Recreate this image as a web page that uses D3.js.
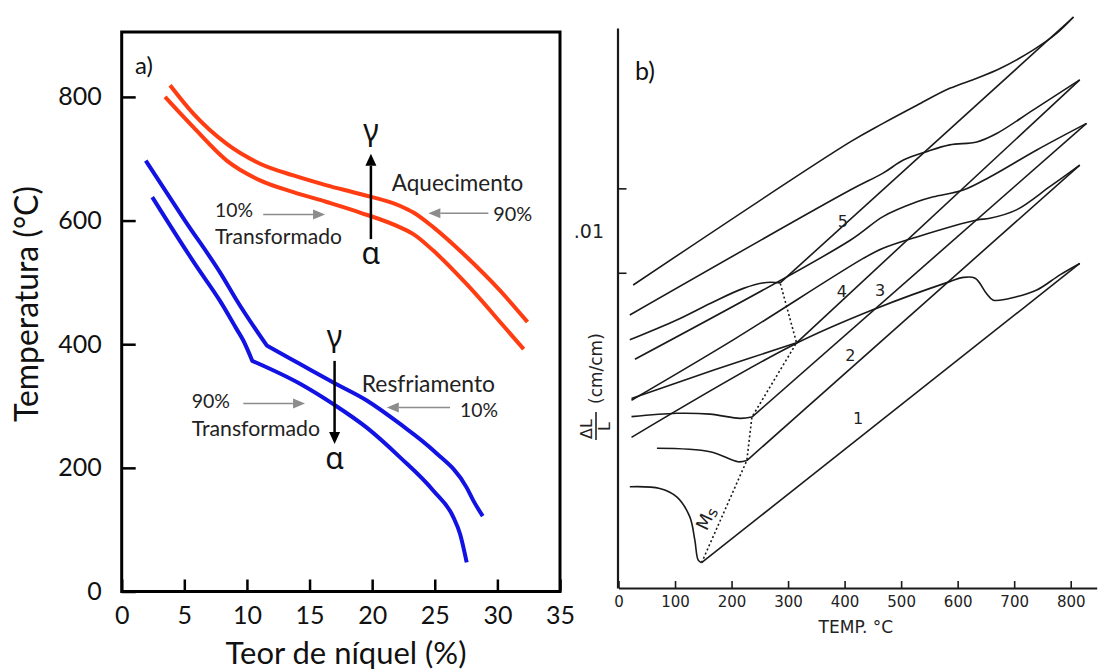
<!DOCTYPE html>
<html>
<head>
<meta charset="utf-8">
<script src="https://cdn.jsdelivr.net/npm/d3@7"></script>
<style>
  html, body { margin: 0; padding: 0; background: #ffffff; }
  svg { display: block; }
</style>
</head>
<body>
<script>
"use strict";

// ---------- panel a) transformation temperature vs nickel content ----------
const niTicks = [0, 5, 10, 15, 20, 25, 30, 35];
const tempTicks = [0, 200, 400, 600, 800];

// heating (aquecimento), [Ni %, temperature C]
const heat10 = [[3.46, 800], [5.72, 751], [8.39, 697], [11.05, 665], [13.71, 646], [16.37, 630],
    [19.03, 613], [22.23, 589], [23.29, 578], [24.9, 551], [27.55, 497], [30.6, 427], [32.1, 392]];
const heat90 = [[3.86, 819], [5.72, 773], [8.39, 724], [11.05, 692], [13.71, 673], [16.37, 657],
    [19.03, 643], [22.2, 624], [23.3, 613], [24.9, 589], [27.55, 541], [30.2, 487], [32.4, 436]];

// cooling (resfriamento)
const cool10 = [[1.92, 697], [5.05, 600], [8.01, 511], [9.18, 471], [11.58, 398], [14.24, 368],
    [16.9, 338], [19.57, 309], [22.23, 271], [24.89, 228], [27.55, 168], [28.08, 147], [28.83, 122]];
const cool90 = [[2.44, 638], [5.94, 527], [7.85, 470], [9.19, 424], [9.71, 406], [10.43, 373],
    [14.24, 336], [16.9, 303], [19.57, 265], [22.23, 217], [24.89, 163], [26.49, 120], [27.02, 93], [27.55, 47]];
// index of the sharp bend in each cooling curve
const coolKinks = [4, 5];

// ---------- panel b) dilatometric curves, [T C, dL/L x 10^-3] ----------
const tempBTicks = [0, 100, 200, 300, 400, 500, 600, 700, 800];
const strainTicks = [9, 11];
const strainLabelValue = 10;   // ".01"

const heatB5 = [[26, 8.71], [410, 12.10], [468, 12.54], [528, 12.97], [586, 13.37], [634, 13.61],
    [675, 13.84], [734, 14.28], [775, 14.67], [805, 15.06]];
const heatB4 = [[20, 8.00], [410, 10.96], [468, 11.36], [504, 11.67], [545, 11.87], [586, 12.03],
    [634, 12.10], [669, 12.30], [734, 12.86], [816, 13.57]];
const heatB3 = [[29, 6.95], [410, 9.77], [468, 10.33], [528, 10.68], [557, 10.80], [610, 10.96],
    [657, 11.27], [740, 11.91], [828, 12.54]];
const heatB2 = [[23, 5.98], [203, 7.41], [433, 9.34], [468, 9.58], [528, 9.85], [634, 10.25],
    [657, 10.29], [704, 10.49], [763, 11.04], [816, 11.55]];
const heatB1 = [[23, 5.10], [309, 7.29], [457, 8.16], [586, 8.79], [610, 8.89], [631, 8.87],
    [651, 8.51], [663, 8.35], [704, 8.43], [740, 8.59], [781, 8.95], [816, 9.22]];

const austB5 = [[286, 8.76], [805, 15.06]];
const austB4 = [[315, 7.34], [816, 13.57]];
const austB3 = [[236, 5.58], [828, 12.54]];
const austB2 = [[227, 4.55], [816, 11.55]];
const austB1 = [[147, 2.13], [816, 9.22]];

const coolB5 = [[20, 7.41], [103, 7.88], [162, 8.27], [221, 8.63], [262, 8.77], [286, 8.76]];
const coolB4 = [[23, 6.02], [170, 6.70], [315, 7.34]];
const coolB3 = [[23, 5.59], [103, 5.67], [162, 5.65], [215, 5.55], [236, 5.58]];
const coolB2 = [[68, 4.84], [162, 4.76], [212, 4.52], [227, 4.55]];
const coolB1 = [[20, 3.93], [73, 3.89], [103, 3.69], [126, 3.22], [135, 2.67], [141, 2.19], [147, 2.13]];

const msLine = [[147, 2.13], [227, 4.55], [236, 5.58], [315, 7.34], [286, 8.76]];

const curveNames = ["1", "2", "3", "4", "5"];
const curveNamePos = [[424, 5.55], [410, 7.05], [463, 8.59], [395, 8.56], [397, 10.22]];

(function () {
    const measurements = { width: 1099, height: 672 };
    const boxA = { left: 121.7, right: 560, top: 32, bottom: 591.5 };
    const FONT = "Lato, 'Open Sans', sans-serif";
    const GREEK = "'Noto Sans', 'DejaVu Sans', sans-serif";
    const SCAN = "'DejaVu Sans', sans-serif";
    const red = "#ff3c12";
    const blue = "#1212e2";
    const ink = "#1a1a1a";

    const svg = d3.select("body").append("svg")
        .attr("width", measurements.width)
        .attr("height", measurements.height);

    const xA = d3.scaleLinear().domain([0, 35]).range([boxA.left, boxA.right]);
    const yA = d3.scaleLinear().domain([0, 905]).range([boxA.bottom, boxA.top]);

    const xB = d3.scaleLinear().domain([0, 846]).range([618.5, 1096.7]);
    const yB = d3.scaleLinear().domain([1.53, 14.8]).range([588, 28]);

    drawPanelA();
    drawPanelB();

    // scale a text's font size so that it spans the given width
    function fitWidth(sel, width) {
        sel.each(function () {
            const w = this.getComputedTextLength();
            const fs = parseFloat(d3.select(this).attr("font-size"));
            if (w > 0) d3.select(this).attr("font-size", fs * width / w);
        });
    }

    function arrow(g, x1, y1, x2, y2, color, width, headLen, headW) {
        const ang = Math.atan2(y2 - y1, x2 - x1);
        const bx = x2 - headLen * Math.cos(ang), by = y2 - headLen * Math.sin(ang);
        g.append("line")
            .attr("x1", x1).attr("y1", y1).attr("x2", bx).attr("y2", by)
            .attr("stroke", color).attr("stroke-width", width);
        const px = -Math.sin(ang) * headW / 2, py = Math.cos(ang) * headW / 2;
        g.append("path")
            .attr("d", `M${x2},${y2}L${bx + px},${by + py}L${bx - px},${by - py}Z`)
            .attr("fill", color);
    }

    function drawPanelA() {
        const g = svg.append("g");

        // ticks (inside the frame)
        const xAxis = g.append("g")
            .attr("transform", `translate(0,${boxA.bottom})`)
            .call(d3.axisBottom(xA).tickValues(niTicks).tickSize(-12).tickSizeOuter(0).tickPadding(15));
        const yAxis = g.append("g")
            .attr("transform", `translate(${boxA.left},0)`)
            .call(d3.axisLeft(yA).tickValues(tempTicks).tickSize(-14).tickSizeOuter(0).tickPadding(20));
        [xAxis, yAxis].forEach(ax => {
            ax.select(".domain").remove();
            ax.selectAll("line").attr("stroke", "#000").attr("stroke-width", 2.5);
            ax.selectAll("text").attr("font-family", FONT).attr("font-size", 25).attr("fill", "#111");
        });

        // curves
        const line = d3.line().x(d => xA(d[0])).y(d => yA(d[1])).curve(d3.curveMonotoneX);
        g.selectAll(".heat").data([heat10, heat90]).enter().append("path")
            .attr("d", line).attr("fill", "none")
            .attr("stroke", red).attr("stroke-width", 4);

        // cooling curves keep their sharp bend: smooth each side separately
        [cool10, cool90].forEach((c, i) => {
            const k = coolKinks[i];
            g.append("path")
                .attr("d", line(c.slice(0, k + 1)) + line(c.slice(k)).replace(/^M/, "L"))
                .attr("fill", "none")
                .attr("stroke", blue).attr("stroke-width", 4).attr("stroke-linejoin", "round");
        });

        // frame
        g.append("rect")
            .attr("x", boxA.left).attr("y", boxA.top)
            .attr("width", boxA.right - boxA.left).attr("height", boxA.bottom - boxA.top)
            .attr("fill", "none").attr("stroke", "#000").attr("stroke-width", 3);

        // axis titles
        const xt = g.append("text")
            .attr("x", 346).attr("y", 664)
            .attr("text-anchor", "middle")
            .attr("font-family", FONT).attr("font-size", 28).attr("fill", "#111")
            .text("Teor de níquel (%)");
        fitWidth(xt, 241);
        const yt = g.append("text")
            .attr("transform", "translate(38,304) rotate(-90)")
            .attr("text-anchor", "middle")
            .attr("font-family", FONT).attr("font-size", 30).attr("fill", "#111")
            .text("Temperatura (°C)");
        fitWidth(yt, 236);

        g.append("text")
            .attr("x", 135).attr("y", 74)
            .attr("font-family", FONT).attr("font-size", 24).attr("fill", "#111")
            .text("a)");

        // transformation arrows
        arrow(g, xA(19.9), yA(570), xA(19.9), yA(708), "#000", 2.5, 12, 11);
        arrow(g, xA(17.0), yA(373), xA(17.0), yA(238.5), "#000", 2.5, 12, 11);

        const grey = "#8c8c8c";
        arrow(g, xA(11.3), yA(609.7), xA(16.24), yA(609.7), grey, 1.6, 12, 10);
        arrow(g, xA(29.28), yA(611.8), xA(24.49), yA(611.8), grey, 1.6, 12, 10);
        arrow(g, xA(9.71), yA(304.2), xA(14.64), yA(304.2), grey, 1.6, 12, 10);
        arrow(g, xA(26.22), yA(297.7), xA(21.17), yA(297.7), grey, 1.6, 12, 10);

        const notes = [
            { t: "Aquecimento", x: 21.57, y: 648.5, w: 131.6 },
            { t: "10%", x: 7.45, y: 605.3, w: 38 },
            { t: "Transformado", x: 7.45, y: 562.7, w: 127 },
            { t: "90%", x: 29.66, y: 600, w: 39 },
            { t: "Resfriamento", x: 19.17, y: 323.1, w: 133.3 },
            { t: "10%", x: 27.02, y: 281.5, w: 38 },
            { t: "90%", x: 5.59, y: 297.2, w: 38.3 },
            { t: "Transformado", x: 5.59, y: 251.9, w: 128.3 }
        ];
        notes.forEach(n => {
            const tx = g.append("text")
                .attr("x", xA(n.x)).attr("y", yA(n.y))
                .attr("font-family", FONT).attr("font-size", 21).attr("fill", "#222")
                .text(n.t);
            fitWidth(tx, n.w);
        });

        const greek = [
            { t: "γ", x: 19.9, y: 729 },
            { t: "α", x: 19.9, y: 530 },
            { t: "γ", x: 17.0, y: 395 },
            { t: "α", x: 17.0, y: 198.5 }
        ];
        greek.forEach(n => {
            g.append("text")
                .attr("x", xA(n.x)).attr("y", yA(n.y))
                .attr("text-anchor", "middle")
                .attr("font-family", GREEK).attr("font-size", 30).attr("fill", "#111")
                .text(n.t);
        });
    }

    function drawPanelB() {
        const g = svg.append("g");

        const xAxis = g.append("g")
            .attr("transform", `translate(0,${yB(1.53)})`)
            .call(d3.axisBottom(xB).tickValues(tempBTicks).tickSize(-7).tickSizeOuter(0).tickPadding(8));
        xAxis.select(".domain").attr("stroke", ink).attr("stroke-width", 2.2);
        xAxis.selectAll("line").attr("stroke", ink).attr("stroke-width", 1.6);
        xAxis.selectAll("text").attr("font-family", SCAN).attr("font-size", 15).attr("fill", "#222");

        const yAxis = g.append("g")
            .attr("transform", `translate(${xB(0) - 1},0)`)
            .call(d3.axisRight(yB).tickValues(strainTicks).tickSize(9).tickSizeOuter(0).tickFormat(""));
        yAxis.select(".domain").attr("stroke", ink).attr("stroke-width", 2.2);
        yAxis.selectAll("line").attr("stroke", ink).attr("stroke-width", 1.6);

        g.append("text")
            .attr("x", 604).attr("y", yB(strainLabelValue) + 7)
            .attr("text-anchor", "end")
            .attr("font-family", SCAN).attr("font-size", 19).attr("fill", "#222")
            .text(".01");

        // dL/L (cm/cm) rotated label
        const lab = g.append("g").attr("transform", "translate(596,440) rotate(-90)")
            .attr("font-family", SCAN).attr("fill", "#222");
        lab.append("text").attr("x", 1).attr("y", -4).attr("font-size", 16).text("ΔL");
        lab.append("line").attr("x1", 0).attr("x2", 28).attr("y1", 0).attr("y2", 0)
            .attr("stroke", "#222").attr("stroke-width", 1.6);
        lab.append("text").attr("x", 9).attr("y", 14).attr("font-size", 16).text("L");
        lab.append("text").attr("x", 36).attr("y", 6).attr("font-size", 17).text("(cm/cm)");

        g.append("text")
            .attr("x", xB(420)).attr("y", 633)
            .attr("text-anchor", "middle")
            .attr("font-family", SCAN).attr("font-size", 17).attr("fill", "#222")
            .text("TEMP. °C");

        g.append("text")
            .attr("x", 635).attr("y", 80)
            .attr("font-family", FONT).attr("font-size", 25).attr("fill", "#111")
            .text("b)");

        const line = d3.line().x(d => xB(d[0])).y(d => yB(d[1])).curve(d3.curveCatmullRom.alpha(0.5));
        const curves = [heatB5, heatB4, heatB3, heatB2, heatB1,
            austB5, austB4, austB3, austB2, austB1,
            coolB5, coolB4, coolB3, coolB2, coolB1];
        g.selectAll(".dil").data(curves).enter().append("path")
            .attr("d", line).attr("fill", "none")
            .attr("stroke", ink).attr("stroke-width", 1.6);

        const msPath = d3.line().x(d => xB(d[0])).y(d => yB(d[1]));
        g.append("path")
            .attr("d", msPath(msLine)).attr("fill", "none")
            .attr("stroke", ink).attr("stroke-width", 1.6).attr("stroke-dasharray", "2,2.5");

        const ms = g.append("text")
            .attr("transform", `translate(${xB(165)},${yB(3.12)}) rotate(-65)`)
            .attr("text-anchor", "middle")
            .attr("font-family", SCAN).attr("font-size", 18).attr("fill", "#222");
        ms.append("tspan").text("M");
        ms.append("tspan").attr("font-size", 15).attr("dy", 2).text("s");

        g.selectAll(".num").data(curveNames).enter().append("text")
            .attr("x", (d, i) => xB(curveNamePos[i][0]))
            .attr("y", (d, i) => yB(curveNamePos[i][1]) + 6)
            .attr("text-anchor", "middle")
            .attr("font-family", SCAN).attr("font-size", 16).attr("fill", "#222")
            .text(d => d);
    }
})();
</script>
</body>
</html>
